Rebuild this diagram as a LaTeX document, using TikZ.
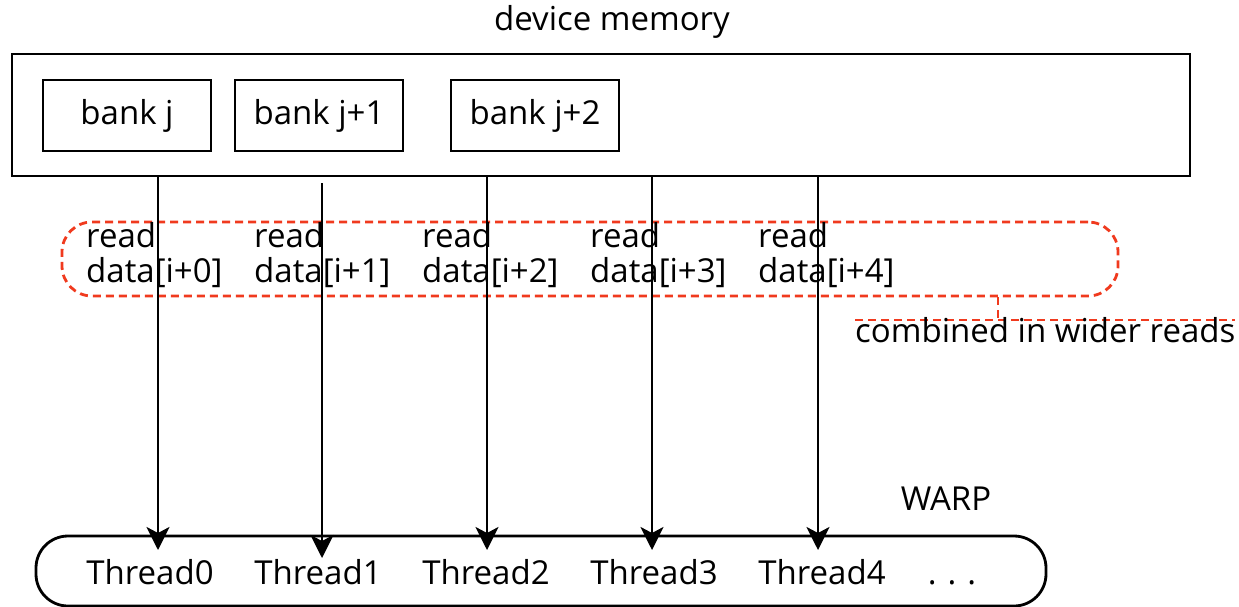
\documentclass[tikz,border=0pt]{standalone}
\usepackage{fontspec}
\setmainfont{Open Sans}
\usetikzlibrary{arrows.meta}
\definecolor{warpred}{RGB}{240,58,30}
\begin{document}
\begin{tikzpicture}[x=1pt,y=-1pt,
  lbl/.style={font=\fontsize{33}{35}\selectfont, inner sep=0pt},
  box/.style={draw, line width=2.8pt, inner sep=0pt},
  arr/.style={line width=2.8pt, -{Stealth[length=23pt,width=23pt,inset=6pt]}},
  reddash/.style={draw=warpred, line width=2.8pt, dash pattern=on 8pt off 5pt},
]
\useasboundingbox (0,0) rectangle (1239,606);

% device memory with its banks
\node[lbl, anchor=base] (title) at (612,30) {device memory};
\node[box, minimum width=1178pt, minimum height=122pt] (mem) at (601,115) {};
\node[box, minimum width=168pt, minimum height=71pt, lbl] (bk0) at (127,115.5) {bank j};
\node[box, minimum width=168pt, minimum height=71pt, lbl] (bk1) at (319,115.5) {bank j+1};
\node[box, minimum width=168pt, minimum height=71pt, lbl] (bk2) at (535,115.5) {bank j+2};

% grouped reads
\node[reddash, rounded corners=30pt, minimum width=1056pt, minimum height=74pt, inner sep=0pt] (grp) at (590,259) {};
\foreach \i/\x in {0/86,1/254,2/422,3/590,4/758}{
  \node[lbl, anchor=base west, align=left] (rd\i) at (\x,282) {read\\data[i+\i]};
}

% callout
\coordinate (knee) at (998,320);
\coordinate (cl) at (855,320);
\coordinate (cr) at (1235,320);
\draw[reddash] (grp.south -| knee) -- (knee);
\draw[reddash] (cl) -- (cr);
\node[lbl, anchor=base west] (note) at (855,342) {combined in wider reads};

% warp
\node[box, rounded corners=32pt, minimum width=1010pt, minimum height=70pt] (warp) at (541,571) {};
\node[lbl, anchor=base] (warplbl) at (946,510) {WARP};
\foreach \i/\x in {0/150,1/318,2/486,3/654,4/822}{
  \node[lbl, anchor=base] (th\i) at (\x,584) {Thread\i};
}
\node[lbl, anchor=base] (dots) at (952,584) {.\,\,.\,\,.};

% reads from memory to threads
\coordinate (tip0) at (158,550);
\coordinate (tip1) at (322,558);
\coordinate (tip2) at (487,550);
\coordinate (tip3) at (652,550);
\coordinate (tip4) at (818,550);
\coordinate (src1) at (322,183);
\draw[arr] (mem.south -| tip0) -- (tip0);
\draw[arr] (src1) -- (tip1);
\draw[arr] (mem.south -| tip2) -- (tip2);
\draw[arr] (mem.south -| tip3) -- (tip3);
\draw[arr] (mem.south -| tip4) -- (tip4);
\end{tikzpicture}
\end{document}
